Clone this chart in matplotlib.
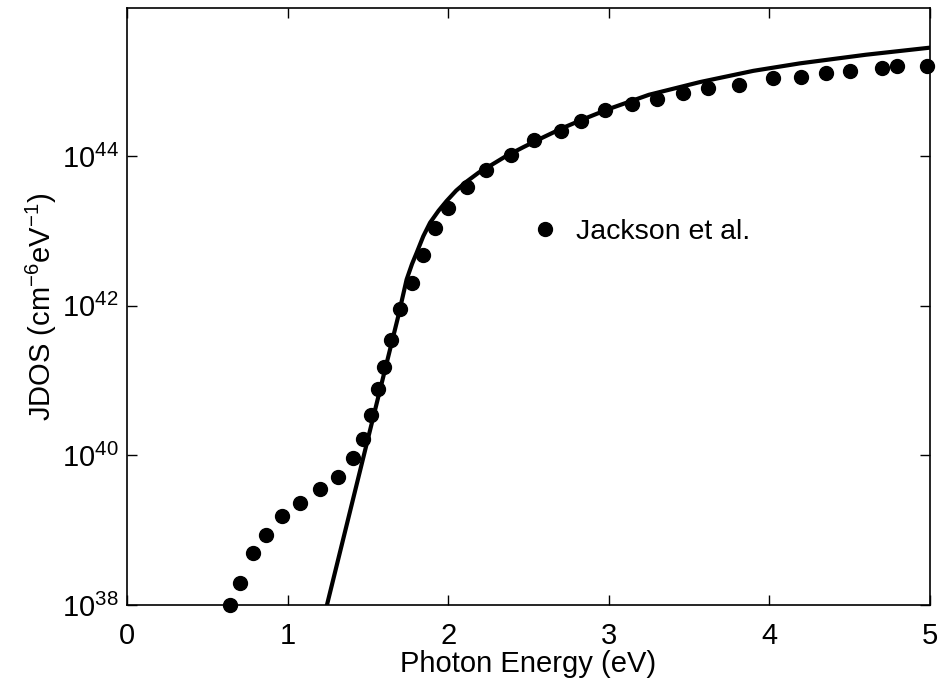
import matplotlib
matplotlib.use('Agg')
import matplotlib.pyplot as plt
import numpy as np

plt.rcParams['font.family'] = ['Liberation Sans', 'DejaVu Sans']
plt.rcParams['mathtext.fontset'] = 'custom'
plt.rcParams['mathtext.rm'] = 'Liberation Sans'
plt.rcParams['mathtext.it'] = 'Liberation Sans:italic'
plt.rcParams['mathtext.bf'] = 'Liberation Sans:bold'

# measured points (Jackson et al.), energy in eV, log10 of JDOS
exp_energy = [0.641, 0.704, 0.785, 0.868, 0.967, 1.077, 1.204, 1.314, 1.409, 1.470,
              1.518, 1.563, 1.598, 1.644, 1.698, 1.776, 1.842, 1.920, 1.997, 2.117,
              2.237, 2.393, 2.534, 2.704, 2.829, 2.978, 3.147, 3.300, 3.460, 3.618,
              3.809, 4.023, 4.197, 4.353, 4.503, 4.701, 4.797, 4.980]
exp_logjdos = [38.00, 38.29, 38.69, 38.94, 39.19, 39.37, 39.55, 39.71, 39.96, 40.22,
               40.54, 40.89, 41.18, 41.54, 41.95, 42.31, 42.68, 43.04, 43.31, 43.59,
               43.81, 44.01, 44.21, 44.33, 44.47, 44.61, 44.70, 44.76, 44.84, 44.91,
               44.95, 45.05, 45.06, 45.11, 45.14, 45.18, 45.20, 45.21]

# model curve
fit_energy = [1.245, 1.50, 1.689, 1.741, 1.775, 1.804, 1.845, 1.887, 1.94, 1.99,
              2.05, 2.115, 2.19, 2.26, 2.36, 2.468, 2.59, 2.717, 2.86, 3.0,
              3.25, 3.568, 3.90, 4.19, 4.60, 5.0]
fit_logjdos = [38.0, 40.22, 41.86, 42.35, 42.56, 42.71, 42.93, 43.11, 43.27, 43.40,
               43.54, 43.66, 43.78, 43.87, 44.00, 44.12, 44.25, 44.38, 44.51, 44.63,
               44.82, 44.99, 45.14, 45.24, 45.355, 45.45]

fig = plt.figure(figsize=(9.43, 6.88), dpi=100)
ax = fig.add_axes([127/943, 1 - 605/688, 803/943, 597/688])

ax.semilogy(fit_energy, 10.0**np.array(fit_logjdos), '-', color='black', lw=3)
ax.semilogy(exp_energy, 10.0**np.array(exp_logjdos), 'o', color='black', ms=10,
            label='Jackson et al.', clip_on=False)

ax.set_xlim(0, 5)
ax.set_ylim(1e38, 10**45.98)
ax.set_xticks([0, 1, 2, 3, 4, 5])
ax.set_yticks([1e38, 1e40, 1e42, 1e44])
ax.set_yticklabels(['$10^{38}$', '$10^{40}$', '$10^{42}$', '$10^{44}$'])
ax.minorticks_off()
ax.tick_params(direction='in', length=7, width=1, top=True, right=True,
               labelsize=21)
ax.tick_params(axis='x', pad=12)
ax.tick_params(axis='y', pad=6)
for s in ax.spines.values():
    s.set_linewidth(1.2)

ax.set_xlabel('Photon Energy (eV)', fontsize=21, labelpad=0)
ax.set_ylabel('JDOS (cm$^{-6}$eV$^{-1}$)', fontsize=21, labelpad=2)

ax.legend(loc='center left', bbox_to_anchor=(0.503, 0.625), frameon=False,
          numpoints=1, handlelength=1, handletextpad=0.6, borderpad=0,
          borderaxespad=0, fontsize=20.5)

fig.savefig('out.png', dpi=100)
